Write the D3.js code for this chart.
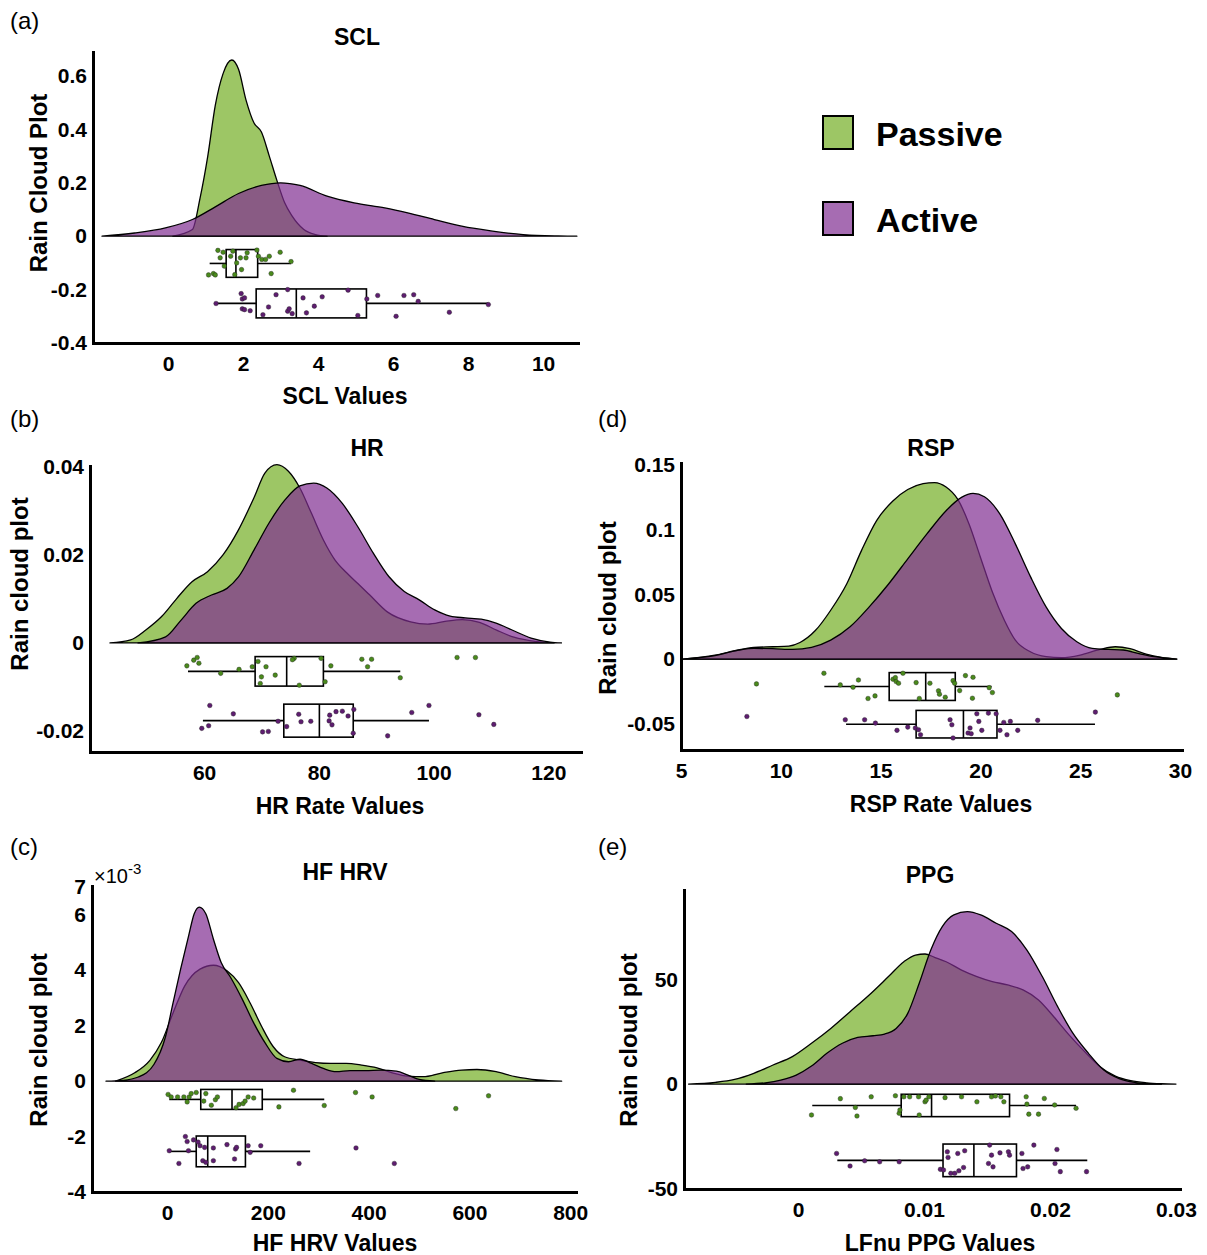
<!DOCTYPE html>
<html>
<head>
<meta charset="utf-8">
<script src="https://cdn.jsdelivr.net/npm/d3@7"></script>
<style>
  body { margin: 0; background: #fff; }
  svg { display: block; font-family: "Liberation Sans", Arial, Helvetica, sans-serif; }
</style>
</head>
<body>
<svg id="chart" width="1207" height="1255"></svg>
<script>
// ---- data ---------------------------------------------------------------

// (a) SCL
var sclPassiveDensity = [[0.13,0],[0.65,0.025],[0.85,0.14],[1.06,0.30],[1.26,0.49],[1.47,0.61],[1.70,0.66],[1.88,0.625],[2.08,0.51],[2.29,0.425],[2.49,0.39],[2.70,0.30],[2.90,0.21],[3.11,0.125],[3.31,0.075],[3.62,0.025],[3.93,0.006],[4.24,0]];
var sclActiveDensity = [[-1.76,0],[-0.89,0.012],[-0.07,0.031],[0.65,0.0625],[1.26,0.11],[1.88,0.16],[2.49,0.19],[3.0,0.20],[3.52,0.19],[4.24,0.15],[4.96,0.125],[5.78,0.106],[6.39,0.0875],[7.1,0.0625],[7.83,0.0375],[8.65,0.019],[9.47,0.006],[10.4,0.001],[10.9,0]];
var sclPassiveBox = [1.11, 1.55, 1.81, 2.39, 3.28];
var sclActiveBox = [1.26, 2.35, 3.42, 5.29, 8.54];
var sclPassiveBoxY = [-0.05, -0.154];
var sclActiveBoxY = [-0.1975, -0.306];
var sclPassivePts = [[1.08,-0.145],[1.21,-0.14],[1.26,-0.145],[1.33,-0.053],[1.39,-0.081],[1.47,-0.06],[1.50,-0.112],[1.67,-0.075],[1.73,-0.056],[1.78,-0.144],[1.83,-0.10],[1.93,-0.081],[1.96,-0.125],[2.08,-0.081],[2.11,-0.062],[2.37,-0.052],[2.41,-0.075],[2.50,-0.087],[2.60,-0.087],[2.75,-0.14],[2.70,-0.075],[2.99,-0.06],[3.28,-0.095]];
var sclActivePts = [[1.28,-0.252],[1.95,-0.215],[1.98,-0.235],[2.04,-0.231],[1.98,-0.272],[2.04,-0.275],[2.19,-0.279],[2.53,-0.294],[2.68,-0.265],[2.88,-0.219],[3.19,-0.20],[3.19,-0.281],[3.23,-0.272],[3.31,-0.29],[3.60,-0.231],[3.69,-0.287],[3.90,-0.262],[4.11,-0.227],[4.80,-0.202],[5.06,-0.297],[5.30,-0.235],[5.59,-0.222],[6.08,-0.30],[6.29,-0.222],[6.55,-0.219],[6.67,-0.244],[7.50,-0.285],[8.54,-0.256]];
var sclXTicks = [0, 2, 4, 6, 8, 10];
var sclYTicks = [-0.4, -0.2, 0, 0.2, 0.4, 0.6];

// (b) HR
var hrPassiveDensity = [[43.6,0],[47.2,0.0007],[49.9,0.003],[52.6,0.006],[55.3,0.0102],[57.9,0.0139],[60.6,0.0162],[63.3,0.020],[66.0,0.0257],[68.7,0.033],[70.6,0.0386],[72.7,0.0405],[74.7,0.039],[76.7,0.0352],[78.7,0.0295],[80.8,0.0234],[82.8,0.0189],[84.8,0.016],[86.8,0.0135],[88.8,0.011],[92.0,0.007],[96.0,0.0048],[99.0,0.0043],[102.0,0.0049],[105.0,0.0053],[108.0,0.0047],[111.0,0.0029],[114.0,0.0013],[118.0,0.0003],[121.0,0]];
var hrActiveDensity = [[48.5,0],[53.3,0.0014],[56.0,0.0052],[58.6,0.009],[61.3,0.0109],[64.0,0.0124],[66.0,0.015],[68.7,0.0211],[71.3,0.0272],[74.1,0.0325],[76.7,0.0357],[79.1,0.0363],[81.4,0.0352],[84.1,0.0317],[86.8,0.0264],[89.5,0.0204],[92.2,0.0151],[94.9,0.0117],[97.5,0.0098],[100.2,0.0075],[102.9,0.0061],[105.5,0.0057],[108.3,0.0054],[110.9,0.0045],[113.6,0.003],[117.0,0.0011],[120.3,0.0002],[122.3,0]];
var hrPassiveBox = [57.2, 68.9, 74.4, 80.8, 94.2];
var hrActiveBox = [59.8, 73.9, 80.1, 86.0, 99.2];
var hrPassiveBoxY = [-0.0031, -0.0098];
var hrActiveBoxY = [-0.0139, -0.0214];
var hrPassivePts = [[57.0,-0.0052],[58.2,-0.0039],[58.8,-0.0033],[59.1,-0.0046],[62.9,-0.0069],[66.1,-0.006],[68.4,-0.0054],[69.4,-0.0042],[69.8,-0.0092],[70.0,-0.0077],[70.8,-0.0054],[72.4,-0.0073],[75.7,-0.0035],[75.4,-0.0038],[76.6,-0.0096],[80.4,-0.0035],[81.1,-0.0088],[82.1,-0.0052],[87.5,-0.0037],[88.5,-0.0054],[89.2,-0.0037],[94.2,-0.0079],[104.1,-0.0033],[107.3,-0.0033]];
var hrActivePts = [[59.6,-0.0194],[61.0,-0.0142],[60.8,-0.0188],[65.1,-0.0161],[70.2,-0.0202],[71.2,-0.0201],[72.9,-0.0178],[74.4,-0.019],[76.5,-0.0162],[76.9,-0.0179],[78.6,-0.0178],[81.8,-0.0177],[81.9,-0.0164],[82.3,-0.0186],[83.0,-0.0156],[84.1,-0.0155],[85.1,-0.0166],[86.1,-0.0151],[86.0,-0.0205],[92.0,-0.0211],[96.2,-0.0158],[99.2,-0.0142],[107.9,-0.0163],[110.5,-0.0185]];
var hrXTicks = [60, 80, 100, 120];
var hrYTicks = [-0.02, 0, 0.02, 0.04];

// (d) RSP
var rspPassiveDensity = [[5.08,0],[6.7,0.003],[7.7,0.0064],[8.65,0.009],[9.6,0.0095],[10.4,0.010],[10.96,0.0128],[11.73,0.022],[12.5,0.0377],[13.3,0.058],[14.04,0.0838],[14.8,0.107],[15.6,0.122],[16.36,0.131],[17.13,0.1356],[17.7,0.1364],[18.28,0.133],[18.86,0.1236],[19.44,0.104],[20.0,0.0787],[20.6,0.0518],[21.2,0.030],[21.75,0.0146],[22.5,0.0056],[23.3,0.0018],[24.07,0.001],[25.0,0.003],[26.0,0.0074],[26.76,0.0095],[27.5,0.008],[28.3,0.0038],[29.07,0.0013],[29.84,0]];
var rspActiveDensity = [[5.08,0],[6.7,0.0026],[7.9,0.0069],[8.65,0.0082],[9.6,0.008],[10.6,0.0074],[11.54,0.009],[12.5,0.0146],[13.47,0.0249],[14.43,0.0403],[15.4,0.058],[16.36,0.0774],[17.32,0.0967],[18.28,0.1146],[19.05,0.1249],[19.63,0.128],[20.2,0.1254],[20.98,0.112],[21.75,0.089],[22.52,0.0633],[23.29,0.0403],[24.06,0.0236],[24.83,0.0133],[25.6,0.0082],[26.4,0.0074],[27.15,0.007],[27.9,0.0044],[28.7,0.0018],[29.84,0]];
var rspPassiveBox = [12.18, 15.43, 17.26, 18.74, 20.56];
var rspActiveBox = [13.27, 16.78, 19.15, 20.83, 25.74];
var rspPassiveBoxY = [-0.0105, -0.032];
var rspActiveBoxY = [-0.0397, -0.061];
var rspPassivePts = [[8.78,-0.0192],[12.16,-0.011],[12.98,-0.020],[13.62,-0.0218],[13.89,-0.0162],[14.37,-0.0305],[14.72,-0.0285],[15.62,-0.0156],[15.74,-0.0144],[15.78,-0.0174],[15.9,-0.0187],[16.12,-0.011],[16.78,-0.0182],[16.94,-0.0305],[17.47,-0.0187],[17.9,-0.0246],[17.95,-0.0272],[18.24,-0.0295],[18.63,-0.0167],[18.71,-0.0187],[18.96,-0.0244],[19.25,-0.0128],[19.63,-0.0141],[19.6,-0.0303],[20.44,-0.0221],[20.6,-0.0259],[26.86,-0.0277]];
var rspActivePts = [[8.3,-0.0444],[13.23,-0.0469],[14.2,-0.0469],[14.74,-0.0495],[15.82,-0.0551],[16.36,-0.0526],[16.74,-0.0533],[16.9,-0.0546],[17.0,-0.0585],[18.48,-0.0469],[18.57,-0.0508],[18.63,-0.061],[19.38,-0.0572],[19.48,-0.0533],[19.54,-0.0577],[19.82,-0.0423],[19.92,-0.0482],[20.07,-0.0551],[20.4,-0.0418],[20.79,-0.0423],[20.98,-0.0551],[21.17,-0.049],[21.33,-0.0585],[21.5,-0.0482],[21.87,-0.0551],[22.87,-0.0474],[25.76,-0.041]];
var rspXTicks = [5, 10, 15, 20, 25, 30];
var rspYTicks = [-0.05, 0, 0.05, 0.1, 0.15];

// (c) HF HRV, densities in units of 1e-3
var hrvPassiveDensity = [[-102,0],[-64,0.3],[-34,0.75],[-11,1.4],[12,2.46],[35,3.43],[65.5,4.04],[92,4.18],[119,3.98],[142,3.55],[165,2.82],[187.6,1.98],[210.5,1.25],[233.4,0.88],[264,0.76],[294.5,0.67],[325,0.64],[355.5,0.64],[386,0.58],[416.6,0.48],[447,0.30],[477.6,0.18],[508,0.16],[546.3,0.30],[584.5,0.40],[615,0.42],[653,0.34],[691,0.16],[737,0.04],[783,0]];
var hrvActiveDensity = [[-121,0],[-87,0.03],[-57,0.15],[-26,0.6],[-3,1.6],[12,2.82],[27,4.04],[43,5.25],[54,6.04],[64,6.28],[77,6.04],[92,5.13],[107.5,4.28],[126.6,3.73],[149.5,2.95],[172,2.1],[195,1.37],[218,0.82],[241,0.70],[264,0.79],[287,0.64],[310,0.46],[336,0.34],[363,0.38],[394,0.38],[424,0.40],[455,0.36],[478,0.22],[500.5,0.06],[531,0]];
var hrvPassiveBox = [4.5, 67, 129, 189, 312];
var hrvActiveBox = [4.5, 58, 80.8, 155.6, 284];
var hrvPassiveBoxY = [-0.30, -1.02];
var hrvActiveBoxY = [-1.98, -3.09];
var hrvPassivePts = [[2.2,-0.48],[8.3,-0.57],[21,-0.57],[33.5,-0.57],[40,-0.75],[44,-0.57],[48,-0.45],[58,-0.41],[73,-0.72],[77,-0.45],[88,-0.87],[96,-0.67],[100,-0.57],[137,-0.96],[143,-0.84],[151,-0.81],[155,-0.72],[161,-0.57],[172,-0.61],[222,-0.93],[251,-0.33],[312,-0.88],[374,-0.41],[407,-0.57],[573,-0.99],[638,-0.53]];
var hrvActivePts = [[4.5,-2.51],[23.6,-2.97],[36.5,-2.0],[40,-2.18],[42.6,-2.51],[52.6,-2.12],[61.7,-2.2],[65.5,-2.33],[71,-2.87],[74.7,-2.39],[77,-2.93],[92,-2.87],[92,-2.41],[119,-2.29],[134,-2.81],[136,-2.45],[138,-2.39],[161,-2.33],[165,-2.57],[186,-2.33],[262,-2.97],[375,-2.41],[451,-2.97]];
var hrvXTicks = [0, 200, 400, 600, 800];
var hrvYTicks = [-4, -2, 0, 2, 4, 6, 7];

// (e) PPG
var ppgPassiveDensity = [[-0.00869,0],[-0.00656,0.8],[-0.00503,2.2],[-0.00351,5.1],[-0.00198,9.1],[-0.00045,13.1],[0.00107,19.5],[0.0026,26.6],[0.00413,34.6],[0.00565,42.6],[0.00718,51.4],[0.0084,58.5],[0.00932,61.7],[0.01008,62.2],[0.01084,60.6],[0.01176,58.5],[0.01298,54.5],[0.0142,51.4],[0.01542,49.0],[0.01664,47.4],[0.01786,45.0],[0.01909,40.2],[0.0203,32.2],[0.02153,23.4],[0.02275,15.5],[0.02397,8.3],[0.02519,3.8],[0.02641,1.6],[0.02763,0.6],[0.02885,0.15],[0.030,0]];
var ppgActiveDensity = [[-0.00411,0],[-0.00259,0.6],[-0.00137,1.9],[-0.00014,4.3],[0.00107,8.6],[0.00229,14.7],[0.00352,19.5],[0.00474,22.3],[0.00596,23.1],[0.00687,23.9],[0.00779,26.6],[0.00871,33.8],[0.00962,48.2],[0.01054,64.1],[0.01145,75.3],[0.01237,80.9],[0.01344,82.5],[0.0145,80.9],[0.01573,76.9],[0.01695,72.9],[0.01817,64.1],[0.01939,51.4],[0.02061,37.0],[0.02183,24.2],[0.02305,14.7],[0.02427,6.7],[0.02549,2.6],[0.02671,0.8],[0.02794,0.15],[0.02885,0]];
var ppgPassiveBox = [0.00113, 0.00819, 0.0106, 0.01679, 0.02207];
var ppgActiveBox = [0.00312, 0.01151, 0.01396, 0.01734, 0.02296];
var ppgPassiveBoxY = [-4.9, -15.6];
var ppgActiveBoxY = [-28.7, -44.3];
var ppgPassivePts = [[0.00107,-14.8],[0.00336,-7.0],[0.00455,-11.2],[0.00468,-15.3],[0.00581,-6.1],[0.00773,-5.6],[0.00803,-14.0],[0.00809,-12.4],[0.0084,-6.1],[0.00886,-6.1],[0.00957,-6.1],[0.01008,-8.5],[0.01017,-7.7],[0.00962,-14.8],[0.01039,-6.1],[0.01167,-6.5],[0.01298,-6.1],[0.0142,-8.5],[0.01536,-6.1],[0.01567,-5.7],[0.0161,-6.1],[0.01634,-8.5],[0.01811,-6.1],[0.01817,-9.6],[0.01832,-14.4],[0.01909,-14.4],[0.01955,-6.9],[0.02037,-10.0],[0.02207,-11.6]];
var ppgActivePts = [[0.00306,-33.2],[0.00413,-39.2],[0.00529,-36.7],[0.00648,-37.2],[0.00803,-37.2],[0.0113,-40.8],[0.01155,-41.1],[0.01185,-32.4],[0.01191,-35.1],[0.01213,-42.7],[0.01244,-42.7],[0.01277,-41.5],[0.01314,-39.9],[0.01323,-31.9],[0.01268,-33.2],[0.01521,-29.2],[0.01512,-38.0],[0.01548,-39.6],[0.01536,-34.0],[0.01603,-32.9],[0.0167,-32.4],[0.01679,-34.0],[0.01777,-33.2],[0.01786,-40.4],[0.01823,-39.6],[0.01872,-29.2],[0.0204,-38.0],[0.02055,-31.3],[0.02082,-41.9],[0.0229,-41.9]];
var ppgXTicks = [0, 0.01, 0.02, 0.03];
var ppgYTicks = [-50, 0, 50];

var groupNames = ["Passive", "Active"];

// ---- styling ----------------------------------------------------------------
var FONT = '"Liberation Sans", Arial, Helvetica, sans-serif';
var GREEN = "rgb(115,174,35)", PURPLE = "rgb(128,45,145)";
var GREEN_DOT = "#4a8a1c", PURPLE_DOT = "#5e1d70";
var ALPHA = 0.7;

var svg = d3.select("#chart");

/**
 * Panel placement: pixel frame of the axes, axis domains and text positions.
 */
var panels = [
    { tag: "(a)", tagX: 10, tagY: 29, title: "SCL", titleX: 357, titleY: 45,
      xLabel: "SCL Values", xLabelX: 345, xLabelY: 404,
      yLabel: "Rain Cloud Plot", yLabelX: 47, yLabelY: 183,
      left: 93, right: 578, top: 52, bottom: 343,
      xDomain: [-2.0, 10.93], yDomain: [-0.4, 0.69],
      xTicks: sclXTicks, yTicks: sclYTicks,
      dens: [sclPassiveDensity, sclActiveDensity],
      box: [sclPassiveBox, sclActiveBox], boxY: [sclPassiveBoxY, sclActiveBoxY],
      pts: [sclPassivePts, sclActivePts] },
    { tag: "(b)", tagX: 10, tagY: 427, title: "HR", titleX: 367, titleY: 456,
      xLabel: "HR Rate Values", xLabelX: 340, xLabelY: 814,
      yLabel: "Rain cloud plot", yLabelX: 28, yLabelY: 584,
      left: 90, right: 581, top: 466, bottom: 752,
      xDomain: [40.12, 125.7], yDomain: [-0.02477, 0.0402],
      xTicks: hrXTicks, yTicks: hrYTicks,
      dens: [hrPassiveDensity, hrActiveDensity],
      box: [hrPassiveBox, hrActiveBox], boxY: [hrPassiveBoxY, hrActiveBoxY],
      pts: [hrPassivePts, hrActivePts] },
    { tag: "(d)", tagX: 598, tagY: 427, title: "RSP", titleX: 931, titleY: 456,
      xLabel: "RSP Rate Values", xLabelX: 941, xLabelY: 812,
      yLabel: "Rain cloud plot", yLabelX: 616, yLabelY: 608,
      left: 681, right: 1182, top: 463, bottom: 750,
      xDomain: [5, 30.1], yDomain: [-0.0703, 0.1515],
      xTicks: rspXTicks, yTicks: rspYTicks,
      dens: [rspPassiveDensity, rspActiveDensity],
      box: [rspPassiveBox, rspActiveBox], boxY: [rspPassiveBoxY, rspActiveBoxY],
      pts: [rspPassivePts, rspActivePts] },
    { tag: "(c)", tagX: 10, tagY: 855, title: "HF HRV", titleX: 345, titleY: 880,
      xLabel: "HF HRV Values", xLabelX: 335, xLabelY: 1251,
      yLabel: "Rain cloud plot", yLabelX: 47, yLabelY: 1040,
      left: 92, right: 576, top: 886, bottom: 1192,
      xDomain: [-148.8, 811.5], yDomain: [-4.0, 7.04],
      xTicks: hrvXTicks, yTicks: hrvYTicks, exponent: "-3",
      dens: [hrvPassiveDensity, hrvActiveDensity],
      box: [hrvPassiveBox, hrvActiveBox], boxY: [hrvPassiveBoxY, hrvActiveBoxY],
      pts: [hrvPassivePts, hrvActivePts] },
    { tag: "(e)", tagX: 598, tagY: 855, title: "PPG", titleX: 930, titleY: 883,
      xLabel: "LFnu PPG Values", xLabelX: 940, xLabelY: 1251,
      yLabel: "Rain cloud plot", yLabelX: 637, yLabelY: 1040,
      left: 684, right: 1180, top: 890, bottom: 1189,
      xDomain: [-0.00905, 0.03032], yDomain: [-50.2, 92.8],
      xTicks: ppgXTicks, yTicks: ppgYTicks,
      dens: [ppgPassiveDensity, ppgActiveDensity],
      box: [ppgPassiveBox, ppgActiveBox], boxY: [ppgPassiveBoxY, ppgActiveBoxY],
      pts: [ppgPassivePts, ppgActivePts] }
];

function drawPanel(p) {
    var x = d3.scaleLinear().domain(p.xDomain).range([p.left, p.right]);
    var y = d3.scaleLinear().domain(p.yDomain).range([p.bottom, p.top]);
    var g = svg.append("g");
    var fills = [GREEN, PURPLE], dots = [GREEN_DOT, PURPLE_DOT];

    /**
     * Cloud: the two density areas, passive below, active on top.
     */
    var area = d3.area().curve(d3.curveMonotoneX)
        .x(function (d) { return x(d[0]); })
        .y0(y(0)).y1(function (d) { return y(d[1]); });
    p.dens.forEach(function (dd, i) {
        g.append("path").attr("d", area(dd))
            .attr("fill", fills[i]).attr("fill-opacity", ALPHA)
            .attr("stroke", "#000").attr("stroke-width", 1.3)
            .attr("stroke-linejoin", "round");
    });

    /**
     * Boxes with whiskers, then the rain drops.
     */
    p.box.forEach(function (b, i) {
        var yTop = y(p.boxY[i][0]), yBot = y(p.boxY[i][1]);
        var yMid = (yTop + yBot) / 2;
        var bg = g.append("g").attr("stroke", "#000").attr("stroke-width", 1.6).attr("fill", "none");
        bg.append("line").attr("x1", x(b[0])).attr("x2", x(b[1])).attr("y1", yMid).attr("y2", yMid);
        bg.append("line").attr("x1", x(b[3])).attr("x2", x(b[4])).attr("y1", yMid).attr("y2", yMid);
        bg.append("rect").attr("x", x(b[1])).attr("y", yTop)
            .attr("width", x(b[3]) - x(b[1])).attr("height", yBot - yTop);
        bg.append("line").attr("x1", x(b[2])).attr("x2", x(b[2])).attr("y1", yTop).attr("y2", yBot);
    });
    p.pts.forEach(function (pts, i) {
        g.selectAll(null).data(pts).enter().append("circle")
            .attr("cx", function (d) { return x(d[0]); })
            .attr("cy", function (d) { return y(d[1]); })
            .attr("r", 2.3).attr("fill", dots[i])
            .attr("stroke", "#222").attr("stroke-width", 0.4);
    });

    /**
     * Axes: thick lines, no tick marks.
     */
    var fmt = function (d) { return String(d); };
    var xa = g.append("g").attr("transform", "translate(0," + p.bottom + ")")
        .call(d3.axisBottom(x).tickValues(p.xTicks).tickFormat(fmt).tickSize(0).tickPadding(13));
    var ya = g.append("g").attr("transform", "translate(" + p.left + ",0)")
        .call(d3.axisLeft(y).tickValues(p.yTicks).tickFormat(fmt).tickSize(0).tickPadding(6));
    [xa, ya].forEach(function (a) {
        a.select(".domain").attr("stroke-width", 3).attr("stroke-linecap", "square");
        a.selectAll("text").attr("font-family", FONT).attr("font-size", 21)
            .attr("font-weight", "bold").attr("fill", "#000");
    });

    // texts
    svg.append("text").attr("x", p.tagX).attr("y", p.tagY).text(p.tag)
        .attr("font-size", 24).attr("font-family", FONT);
    svg.append("text").attr("x", p.titleX).attr("y", p.titleY).text(p.title)
        .attr("text-anchor", "middle").attr("font-size", 23).attr("font-weight", "bold").attr("font-family", FONT);
    svg.append("text").attr("x", p.xLabelX).attr("y", p.xLabelY).text(p.xLabel)
        .attr("text-anchor", "middle").attr("font-size", 23).attr("font-weight", "bold").attr("font-family", FONT);
    svg.append("text").attr("transform", "translate(" + p.yLabelX + "," + p.yLabelY + ") rotate(-90)")
        .text(p.yLabel).attr("text-anchor", "middle").attr("font-size", 24)
        .attr("font-weight", "bold").attr("font-family", FONT);
    if (p.exponent) {
        var ex = svg.append("text").attr("x", p.left + 2).attr("y", p.top - 3)
            .attr("font-size", 20).attr("font-family", FONT);
        ex.append("tspan").text("\u00d710");
        ex.append("tspan").text(p.exponent).attr("font-size", 15).attr("dy", -9);
    }
}

panels.forEach(drawPanel);

/**
 * Legend.
 */
var legend = svg.append("g").attr("transform", "translate(823,116)");
groupNames.forEach(function (name, i) {
    var row = legend.append("g").attr("transform", "translate(0," + (i * 86) + ")");
    row.append("rect").attr("width", 30).attr("height", 33)
        .attr("fill", [GREEN, PURPLE][i]).attr("fill-opacity", ALPHA)
        .attr("stroke", "#000").attr("stroke-width", 2);
    row.append("text").attr("x", 53).attr("y", 30).text(name)
        .attr("font-size", 34).attr("font-weight", "bold").attr("font-family", FONT);
});
</script>
</body>
</html>
